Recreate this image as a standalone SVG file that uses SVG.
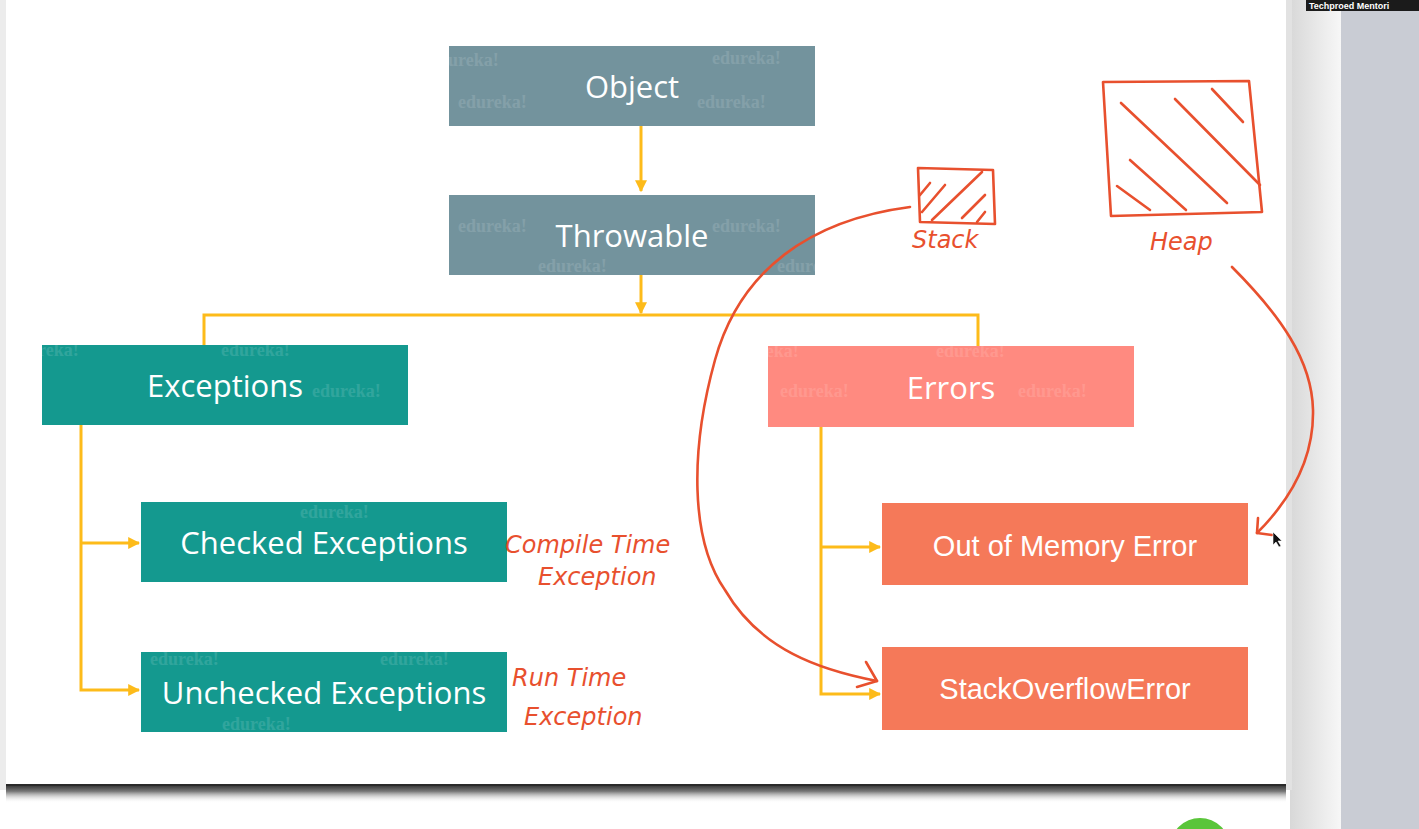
<svg xmlns="http://www.w3.org/2000/svg" width="1419" height="829" viewBox="0 0 1419 829">
<defs>
<style>
.node-text{font-family:"Open Sans","Noto Sans",sans-serif;fill:#ffffff;text-anchor:middle;font-size:31px}
.err-text{font-family:"Liberation Sans",Arial,sans-serif;fill:#ffffff;text-anchor:middle;font-size:29px}
.wm{font-family:"Liberation Serif",serif;font-weight:bold;font-size:18px;fill:#ffffff;opacity:0.12}
.conn{stroke:#fdbb1a;stroke-width:3;fill:none}
.ink{stroke:#e8502e;stroke-width:2.6;fill:none;stroke-linecap:round;stroke-linejoin:round}
.hand{font-family:"DejaVu Sans",sans-serif;fill:#e8502e;font-size:24px;font-style:italic}
</style>
<marker id="arr" viewBox="0 0 10 10" refX="9" refY="5" markerWidth="4" markerHeight="4" orient="auto" markerUnits="strokeWidth">
<path d="M0,0 L10,5 L0,10 z" fill="#fdbb1a"/>
</marker>
<linearGradient id="shadowB" x1="0" y1="0" x2="0" y2="1">
<stop offset="0" stop-color="#333"/>
<stop offset="0.35" stop-color="#777"/>
<stop offset="1" stop-color="#fff" stop-opacity="0"/>
</linearGradient>
<linearGradient id="shadowR" x1="0" y1="0" x2="1" y2="0">
<stop offset="0" stop-color="#d8d8d8"/>
<stop offset="1" stop-color="#f7f7f7"/>
</linearGradient>
<clipPath id="cObj"><rect x="449" y="46" width="366" height="80"/></clipPath>
<clipPath id="cThr"><rect x="449" y="195" width="366" height="80"/></clipPath>
<clipPath id="cExc"><rect x="42" y="345" width="366" height="80"/></clipPath>
<clipPath id="cErr"><rect x="768" y="346" width="366" height="81"/></clipPath>
<clipPath id="cChk"><rect x="141" y="502" width="366" height="80"/></clipPath>
<clipPath id="cUnc"><rect x="141" y="652" width="366" height="80"/></clipPath>
</defs>

<!-- background -->
<rect x="0" y="0" width="1419" height="829" fill="#ffffff"/>
<rect x="1290" y="0" width="51" height="829" fill="url(#shadowR)"/>
<rect x="1341" y="0" width="78" height="829" fill="#c9ccd4"/>
<rect x="1306" y="0" width="113" height="11" fill="#1b1b1b"/>
<text x="1309" y="9" font-family="Liberation Sans,sans-serif" font-size="9" font-weight="bold" fill="#ffffff">Techproed Mentori</text>
<rect x="6" y="785" width="1280" height="18" fill="url(#shadowB)"/>
<path d="M6,785 L1286,785" stroke="#2a2a2a" stroke-width="2"/>
<rect x="0" y="0" width="6" height="790" fill="#ececec"/>
<rect x="1286" y="0" width="6" height="790" fill="#e2e2e2"/>
<circle cx="1200" cy="848" r="30" fill="#5ac53a"/>

<!-- connectors -->
<g id="connectors">
<path class="conn" d="M641,126 V191" marker-end="url(#arr)"/>
<path class="conn" d="M641,275 V313" marker-end="url(#arr)"/>
<path class="conn" d="M204,345 V315 H978 V346"/>
<path class="conn" d="M81,425 V690 H139" marker-end="url(#arr)"/>
<path class="conn" d="M81,543 H139" marker-end="url(#arr)"/>
<path class="conn" d="M821,427 V694 H880" marker-end="url(#arr)"/>
<path class="conn" d="M821,547 H880" marker-end="url(#arr)"/>
</g>

<!-- nodes -->
<g id="node-object">
<rect x="449" y="46" width="366" height="80" fill="#73939d"/>
<g clip-path="url(#cObj)"><text class="wm" x="430" y="66">edureka!</text><text class="wm" x="712" y="64">edureka!</text><text class="wm" x="458" y="108">edureka!</text><text class="wm" x="697" y="108">edureka!</text></g>
<text class="node-text" x="632" y="98">Object</text>
</g>
<g id="node-throwable">
<rect x="449" y="195" width="366" height="80" fill="#73939d"/>
<g clip-path="url(#cThr)"><text class="wm" x="458" y="232">edureka!</text><text class="wm" x="712" y="232">edureka!</text><text class="wm" x="538" y="272">edureka!</text><text class="wm" x="777" y="272">edureka!</text></g>
<text class="node-text" x="632" y="247">Throwable</text>
</g>
<g id="node-exceptions">
<rect x="42" y="345" width="366" height="80" fill="#14998f"/>
<g clip-path="url(#cExc)"><text class="wm" x="10" y="356">edureka!</text><text class="wm" x="221" y="356">edureka!</text><text class="wm" x="312" y="397">edureka!</text></g>
<text class="node-text" x="225" y="397">Exceptions</text>
</g>
<g id="node-errors">
<rect x="768" y="346" width="366" height="81" fill="#ff8a80"/>
<g clip-path="url(#cErr)"><text class="wm" x="730" y="357">edureka!</text><text class="wm" x="936" y="357">edureka!</text><text class="wm" x="780" y="397">edureka!</text><text class="wm" x="1018" y="397">edureka!</text></g>
<text class="node-text" x="951" y="399">Errors</text>
</g>
<g id="node-checked">
<rect x="141" y="502" width="366" height="80" fill="#14998f"/>
<g clip-path="url(#cChk)"><text class="wm" x="300" y="518">edureka!</text></g>
<text class="node-text" x="324" y="554">Checked Exceptions</text>
</g>
<g id="node-unchecked">
<rect x="141" y="652" width="366" height="80" fill="#14998f"/>
<g clip-path="url(#cUnc)"><text class="wm" x="150" y="665">edureka!</text><text class="wm" x="380" y="665">edureka!</text><text class="wm" x="222" y="730">edureka!</text></g>
<text class="node-text" x="324" y="704">Unchecked Exceptions</text>
</g>
<g id="node-oom">
<rect x="882" y="503" width="366" height="82" fill="#f57959"/>
<text class="err-text" x="1065" y="556">Out of Memory Error</text>
</g>
<g id="node-soe">
<rect x="882" y="647" width="366" height="83" fill="#f57959"/>
<text class="err-text" x="1065" y="699">StackOverflowError</text>
</g>

<!-- handwritten annotations -->
<g id="stack-sketch">
<path class="ink" d="M918,168 L993,170 L995,224 L920,222 Z"/>
<path class="ink" d="M920,195 L930,183 M922,212 L945,185 M932,220 L982,172 M962,218 L985,195 M977,222 L985,212"/>
<text class="hand" x="912" y="248" font-size="21">Stack</text>
</g>
<g id="heap-sketch">
<path class="ink" d="M1103,82 L1249,81 L1262,212 L1111,216 Z"/>
<path class="ink" d="M1121,103 L1227,203 M1175,99 L1260,185 M1212,89 L1243,122 M1130,160 L1186,210 M1117,186 L1150,210"/>
<text class="hand" x="1150" y="250" font-size="21">Heap</text>
</g>
<g id="ink-arrows">
<path class="ink" d="M910,207 C810,220 740,270 715,360 C690,450 690,540 725,590 C760,650 820,670 877,681"/>
<path class="ink" d="M866,662 L877,681 L857,687"/>
<path class="ink" d="M1232,267 C1280,315 1312,360 1313,410 C1314,460 1290,500 1257,533"/>
<path class="ink" d="M1258,518 L1257,533 L1272,535"/>
</g>
<g id="annotations">
<text class="hand" x="505" y="553">Compile Time</text>
<text class="hand" x="538" y="585">Exception</text>
<text class="hand" x="512" y="686">Run Time</text>
<text class="hand" x="524" y="725">Exception</text>
</g>
<path d="M1273,532 L1273,545 L1276,542 L1279,547 L1281,546 L1278,541 L1282,541 Z" fill="#111" stroke="#fff" stroke-width="0.6"/>
</svg>
